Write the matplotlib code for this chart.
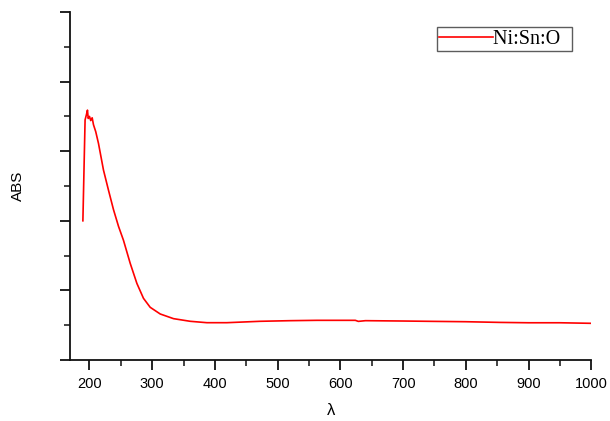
import matplotlib
matplotlib.use('Agg')
import matplotlib.pyplot as plt
from matplotlib.ticker import MultipleLocator, NullFormatter

# absorbance spectrum (arbitrary ABS units, 0-5 frame)
wavelength = [189.5, 193, 195, 196.8, 198, 200, 202, 204.3, 206.4, 210, 214.4,
              222.3, 230.3, 238.3, 246.3, 254.2, 264.9, 275.6, 286.1, 296.8,
              312.8, 334, 360.6, 387.2, 419, 472, 520, 562.7, 600, 623.8,
              628.6, 640, 700, 748, 800, 855, 900, 950, 1000]
absorbance = [2.0, 3.45, 3.52, 3.59, 3.47, 3.50, 3.44, 3.48, 3.38, 3.28, 3.11,
              2.73, 2.44, 2.16, 1.92, 1.72, 1.39, 1.10, 0.886, 0.757,
              0.661, 0.594, 0.556, 0.536, 0.536, 0.556, 0.565, 0.57, 0.57, 0.57,
              0.555, 0.565, 0.56, 0.555, 0.55, 0.54, 0.535, 0.535, 0.527]
series_label = "Ni:Sn:O"

SANS = "Liberation Sans"
SERIF = "Liberation Serif"

fig = plt.figure(figsize=(6.1, 4.21), dpi=100)
ax = fig.add_axes([0.1148, 0.1449, 0.8545, 0.8266])

# trailing spaces give the right-hand padding inside the legend frame
ax.plot(wavelength, absorbance, color="red", linewidth=1.2, label=series_label + "  ")

ax.set_xlim(169, 1000)
ax.set_ylim(0, 5)

for side in ("top", "right"):
    ax.spines[side].set_visible(False)
for side in ("left", "bottom"):
    ax.spines[side].set_linewidth(1.3)
    ax.spines[side].set_color("#111111")

ax.xaxis.set_major_locator(MultipleLocator(100))
ax.xaxis.set_minor_locator(MultipleLocator(50))
ax.yaxis.set_major_locator(MultipleLocator(1))
ax.yaxis.set_minor_locator(MultipleLocator(0.5))
ax.yaxis.set_major_formatter(NullFormatter())

ax.tick_params(which="major", direction="out", length=7, width=1.3, color="#111111")
ax.tick_params(which="minor", direction="out", length=4, width=1.1, color="#111111")
ax.tick_params(axis="x", which="major", labelsize=10.5, pad=5)
for lab in ax.get_xticklabels():
    lab.set_fontfamily(SANS)

ax.set_xlabel("λ", fontsize=12, family=[SANS, "DejaVu Sans"], labelpad=9)
ax.set_ylabel("ABS", fontsize=11, family=SANS, labelpad=22)

leg = ax.legend(loc="upper right", bbox_to_anchor=(0.9636, 0.956), borderaxespad=0,
                prop={"family": SERIF, "size": 14.5}, frameon=True, fancybox=False,
                handlelength=2.65, handletextpad=0.0, borderpad=0.12)
leg.get_frame().set_edgecolor("#333333")
leg.get_frame().set_linewidth(1.0)

fig.savefig("out.png", dpi=100)
